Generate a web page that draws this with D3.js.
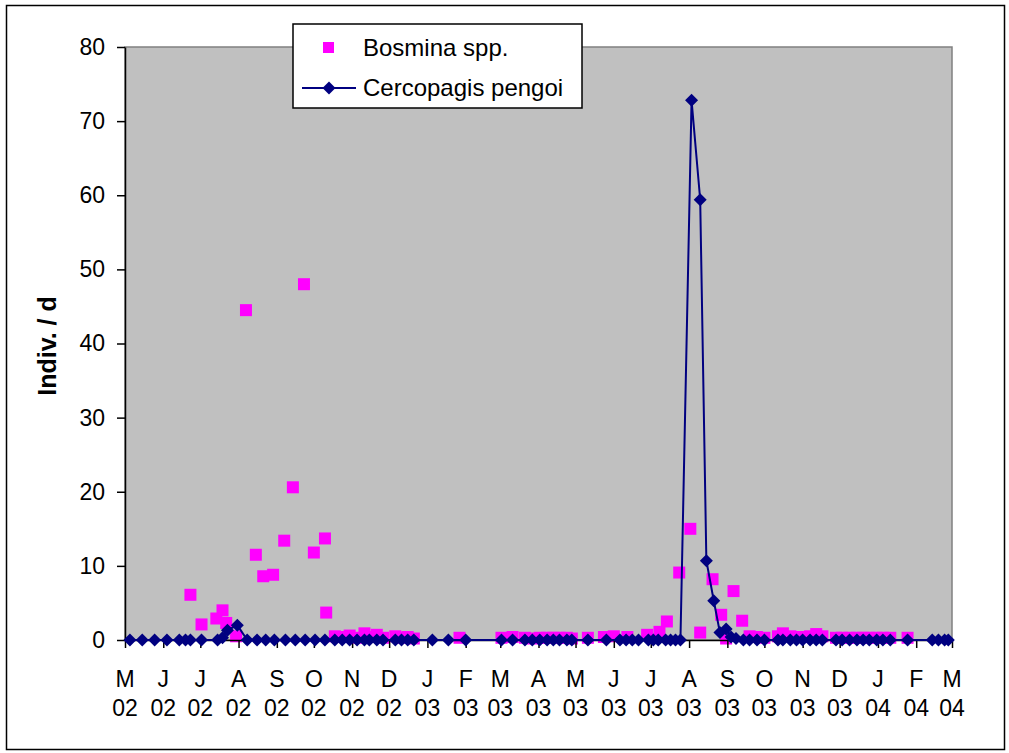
<!DOCTYPE html>
<html>
<head>
<meta charset="utf-8">
<script src="https://cdn.jsdelivr.net/npm/d3@7"></script>
<style>
  body { margin: 0; background: #fff; }
  text { font-family: "Liberation Sans", Arial, sans-serif; fill: #000; }
</style>
</head>
<body>
<svg id="chart" width="1009" height="753"></svg>
<script>
// ---- data ----
const monthLabels = ["M","J","J","A","S","O","N","D","J","F","M","A","M","J","J","A","S","O","N","D","J","F","M"];
const yearLabels  = ["02","02","02","02","02","02","02","02","03","03","03","03","03","03","03","03","03","03","03","03","04","04","04"];
const yTicks = [0, 10, 20, 30, 40, 50, 60, 70, 80];

const bosminaDates = [
  "2002-06-23","2002-07-02","2002-07-14","2002-07-19","2002-07-22","2002-07-30",
  "2002-08-07","2002-08-15","2002-08-21","2002-08-29","2002-09-07","2002-09-14","2002-09-23","2002-10-01","2002-10-10","2002-10-11",
  "2002-10-18","2002-10-24","2002-10-30","2002-11-05","2002-11-11","2002-11-15","2002-11-21","2002-11-26","2002-12-06","2002-12-11","2002-12-16","2002-12-21",
  "2003-01-27","2003-03-02","2003-03-11","2003-03-21","2003-03-27","2003-04-02","2003-04-08","2003-04-13","2003-04-18","2003-04-24","2003-04-28",
  "2003-05-11","2003-05-24","2003-06-01","2003-06-12","2003-06-28","2003-07-08","2003-07-14","2003-07-24",
  "2003-08-02","2003-08-10","2003-08-20","2003-08-27","2003-08-31","2003-09-06","2003-09-13","2003-09-19","2003-09-25",
  "2003-10-01","2003-10-12","2003-10-16","2003-10-22","2003-10-27","2003-11-01","2003-11-07","2003-11-12","2003-11-17","2003-11-28","2003-12-03","2003-12-09","2003-12-15","2003-12-20","2003-12-25","2003-12-31",
  "2004-01-05","2004-01-11","2004-01-25"
];
const bosminaValues = [
  6.1, 2.1, 2.9, 4.0, 2.3, 0.5,
  44.5, 11.5, 8.6, 8.8, 13.4, 20.6, 48.0, 11.8, 13.7, 3.7,
  0.5, 0.4, 0.6, 0.3, 0.9, 0.4, 0.7, 0.3, 0.5, 0.3, 0.4, 0.2,
  0.3, 0.3, 0.4, 0.3, 0.2, 0.3, 0.3, 0.3, 0.3, 0.3, 0.2,
  0.3, 0.4, 0.5, 0.4, 0.7, 1.1, 2.5, 9.1,
  15.0, 1.0, 8.2, 3.4, 0.2, 6.6, 2.6, 0.5, 0.4,
  0.3, 0.5, 0.9, 0.5, 0.4, 0.4, 0.5, 0.8, 0.5, 0.3, 0.3, 0.3, 0.3, 0.3, 0.3, 0.3,
  0.3, 0.3, 0.3
];

const cercopagisDates = [
  "2002-05-05","2002-05-15","2002-05-25","2002-06-04","2002-06-14","2002-06-19","2002-06-23","2002-07-02","2002-07-15","2002-07-19","2002-07-23","2002-07-31",
  "2002-08-08","2002-08-16","2002-08-23","2002-08-30","2002-09-08","2002-09-16","2002-09-24","2002-10-02","2002-10-10","2002-10-18","2002-10-24","2002-10-30",
  "2002-11-05","2002-11-11","2002-11-15","2002-11-21","2002-11-26","2002-12-06","2002-12-11","2002-12-16","2002-12-21",
  "2003-01-05","2003-01-18","2003-02-01","2003-03-02","2003-03-11","2003-03-21","2003-03-27","2003-04-02","2003-04-08","2003-04-13","2003-04-18","2003-04-24","2003-04-28",
  "2003-05-11","2003-05-26","2003-06-06","2003-06-11","2003-06-16","2003-06-21","2003-06-29","2003-07-03","2003-07-07","2003-07-13","2003-07-17","2003-07-21","2003-07-25",
  "2003-08-03","2003-08-10","2003-08-15","2003-08-21","2003-08-26","2003-08-31","2003-09-04","2003-09-08","2003-09-14","2003-09-19","2003-09-25",
  "2003-10-01","2003-10-12","2003-10-16","2003-10-22","2003-10-27","2003-11-01","2003-11-07","2003-11-12","2003-11-17","2003-11-28","2003-12-03","2003-12-09","2003-12-15","2003-12-20","2003-12-25","2003-12-31",
  "2004-01-05","2004-01-11","2004-01-25","2004-02-14","2004-02-19","2004-02-24","2004-02-27"
];
const cercopagisValues = [
  0, 0, 0, 0, 0, 0, 0, 0, 0, 0.3, 1.3, 2.0,
  0, 0, 0, 0, 0, 0, 0, 0, 0, 0, 0, 0,
  0, 0, 0, 0, 0, 0, 0, 0, 0,
  0, 0, 0, 0, 0, 0, 0, 0, 0, 0, 0, 0, 0,
  0, 0, 0, 0, 0, 0, 0, 0, 0, 0, 0, 0, 0,
  72.8, 59.4, 10.7, 5.3, 1.0, 1.5, 0.4, 0.2, 0, 0, 0,
  0, 0, 0, 0, 0, 0, 0, 0, 0, 0, 0, 0, 0, 0, 0, 0,
  0, 0, 0, 0, 0, 0, 0
];

// ---- setup ----
const parse = d3.utcParse("%Y-%m-%d");
const startDate = parse("2002-05-01"), endDate = parse("2004-03-01");

const svg = d3.select("#chart");
const plot = { left: 125, right: 952, top: 47, bottom: 640 };

const x = d3.scaleUtc().domain([startDate, endDate]).range([plot.left, plot.right]);
const y = d3.scaleLinear().domain([0, 80]).range([plot.bottom, plot.top]);

const bosmina = d3.zip(bosminaDates, bosminaValues).map(d => ({ date: parse(d[0]), value: d[1] }));
const cercopagis = d3.zip(cercopagisDates, cercopagisValues).map(d => ({ date: parse(d[0]), value: d[1] }));
const monthTicks = monthLabels.map((m, i) => d3.utcMonth.offset(startDate, i));

// outer chart frame
svg.append("rect")
  .attr("x", 6.5).attr("y", 5.5)
  .attr("width", 998).attr("height", 744)
  .attr("fill", "#fff").attr("stroke", "#000").attr("stroke-width", 1.5);

// grey plot area
svg.append("rect")
  .attr("x", plot.left).attr("y", plot.top)
  .attr("width", plot.right - plot.left).attr("height", plot.bottom - plot.top)
  .attr("fill", "#c0c0c0").attr("stroke", "#808080").attr("stroke-width", 1.5);

// y axis
const yAxis = svg.append("g")
  .attr("transform", `translate(${plot.left},0)`)
  .call(d3.axisLeft(y).tickValues(yTicks).tickSize(8).tickSizeOuter(0).tickPadding(12));
yAxis.selectAll("path, line").attr("stroke", "#000").attr("stroke-width", 1.5);
yAxis.selectAll("text")
  .style("font-family", "'Liberation Sans', Arial, sans-serif")
  .style("font-size", "23px");

// y title
svg.append("text")
  .attr("transform", "translate(47,346) rotate(-90)")
  .attr("text-anchor", "middle")
  .attr("dominant-baseline", "central")
  .style("font-size", "25px")
  .style("font-weight", "bold")
  .text("Indiv. / d");

// bosmina squares
svg.append("g").selectAll("rect")
  .data(bosmina)
  .enter().append("rect")
  .attr("x", d => x(d.date) - 6)
  .attr("y", d => y(d.value) - 6)
  .attr("width", 12).attr("height", 12)
  .attr("fill", "#ff00ff");

// x axis
const xAxis = svg.append("g")
  .attr("transform", `translate(0,${plot.bottom})`)
  .call(d3.axisBottom(x).tickValues(monthTicks).tickSize(8).tickSizeOuter(0).tickFormat(""));
xAxis.selectAll("path, line").attr("stroke", "#000").attr("stroke-width", 1.5);

const xLabels = svg.append("g").selectAll("text")
  .data(monthTicks)
  .enter().append("text")
  .attr("x", d => x(d))
  .attr("text-anchor", "middle")
  .style("font-size", "23px");
xLabels.append("tspan").attr("x", d => x(d)).attr("y", 687).text((d, i) => monthLabels[i]);
xLabels.append("tspan").attr("x", d => x(d)).attr("y", 716).text((d, i) => yearLabels[i]);

// cercopagis line + diamonds
const line = d3.line().x(d => x(d.date)).y(d => y(d.value));
svg.append("path")
  .datum(cercopagis)
  .attr("d", line)
  .attr("fill", "none")
  .attr("stroke", "#000080")
  .attr("stroke-width", 2);

const diamond = "M0,-6.5L6.5,0L0,6.5L-6.5,0Z";
svg.append("g").selectAll("path")
  .data(cercopagis)
  .enter().append("path")
  .attr("d", diamond)
  .attr("transform", d => `translate(${x(d.date)},${y(d.value)})`)
  .attr("fill", "#000080");

// legend
const legend = svg.append("g");
legend.append("rect")
  .attr("x", 293).attr("y", 24)
  .attr("width", 289).attr("height", 84)
  .attr("fill", "#fff").attr("stroke", "#000").attr("stroke-width", 1.5);
legend.append("rect")
  .attr("x", 323).attr("y", 42).attr("width", 11).attr("height", 11)
  .attr("fill", "#ff00ff");
legend.append("text")
  .attr("x", 363).attr("y", 56)
  .style("font-size", "24px")
  .text("Bosmina spp.");
legend.append("line")
  .attr("x1", 302).attr("x2", 356).attr("y1", 88).attr("y2", 88)
  .attr("stroke", "#000080").attr("stroke-width", 2);
legend.append("path")
  .attr("d", diamond)
  .attr("transform", "translate(329,88)")
  .attr("fill", "#000080");
legend.append("text")
  .attr("x", 363).attr("y", 96)
  .style("font-size", "24px")
  .text("Cercopagis pengoi");
</script>
</body>
</html>
